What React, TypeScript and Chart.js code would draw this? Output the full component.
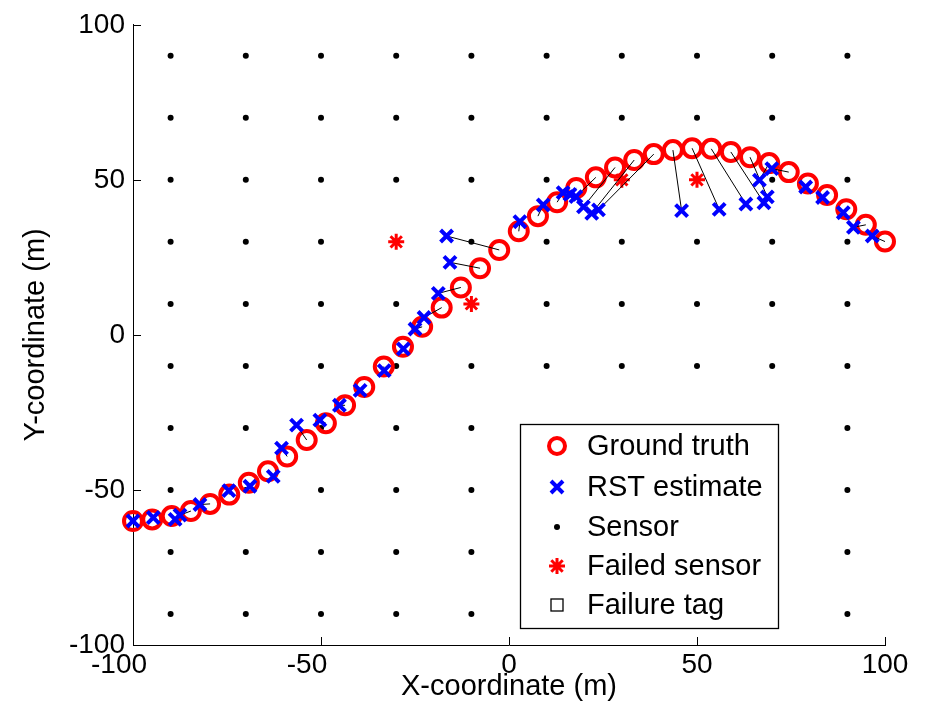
import React, { useEffect, useRef } from 'react';
import { Chart, registerables } from 'chart.js';

Chart.register(...registerables);

// Ground truth trajectory
const truthX = [-100, -94.9, -89.7, -84.6, -79.5, -74.4, -69.2, -64.1, -59.0, -53.8, -48.7, -43.6, -38.5, -33.3, -28.2, -23.1, -17.9, -12.8, -7.7, -2.6, 2.6, 7.7, 12.8, 17.9, 23.1, 28.2, 33.3, 38.5, 43.6, 48.7, 53.8, 59.0, 64.1, 69.2, 74.4, 79.5, 84.6, 89.7, 94.9, 100];
const truthY = [-60, -59.5, -58.4, -56.8, -54.5, -51.5, -47.7, -44, -39.2, -33.9, -28.5, -22.7, -16.8, -10.2, -3.8, 2.6, 8.8, 15.3, 21.5, 27.4, 33.4, 38.3, 42.8, 47.4, 50.8, 54.0, 56.4, 58.3, 59.6, 60.2, 60.0, 59.0, 57.3, 55.4, 52.5, 48.8, 45.1, 40.5, 35.5, 30.1];

// RST estimates
const estX = [-100, -94.6, -88.8, -87.5, -82.2, -74.5, -68.9, -62.7, -60.5, -56.5, -50.3, -45.1, -39.6, -33.2, -28.1, -25.0, -22.6, -18.8, -15.7, -16.6, 2.9, 9.1, 14.4, 16.2, 17.8, 19.8, 22.0, 23.8, 45.9, 55.9, 63.0, 67.8, 68.7, 66.6, 69.9, 78.9, 83.4, 88.9, 91.6, 96.6];
const estY = [-60, -58.9, -59.5, -58.1, -54.7, -50.2, -48.8, -45.6, -36.5, -29.1, -27.5, -22.7, -17.9, -11.5, -4.5, 1.9, 5.6, 13.4, 23.4, 31.9, 36.5, 41.9, 45.9, 45.3, 44.6, 41.3, 39.2, 40.3, 40.1, 40.5, 42.2, 42.6, 44.5, 49.9, 53.6, 47.7, 44.3, 39.4, 34.7, 31.9];

// Sensor grid
const sensorCols = [-90, -70, -50, -30, -10, 10, 30, 50, 70, 90];
const sensorRows = [90, 70, 50, 30, 10, -10, -30, -50, -70, -90];

// Failed sensors
const failedX = [-30, -10, 30, 50];
const failedY = [30, 10, 50, 50];

// Axis ticks
const tickValues = [-100, -50, 0, 50, 100];

const legendLabels = ['Ground truth', 'RST estimate', 'Sensor', 'Failed sensor', 'Failure tag'];

const FONT = '"Liberation Sans", Arial, Helvetica, sans-serif';

export default function App() {
  const ref = useRef<HTMLCanvasElement | null>(null);

  useEffect(() => {
    if (!ref.current) return;

    const truth = truthX.map((x, i) => ({ x, y: truthY[i] }));
    const est = estX.map((x, i) => ({ x, y: estY[i] }));
    const errLines: any[] = [];
    estX.forEach((x, i) => {
      errLines.push({ x, y: estY[i] });
      errLines.push({ x: truthX[i], y: truthY[i] });
      errLines.push({ x: null, y: null });
    });
    const failedSet = new Set(failedX.map((x, i) => `${x},${failedY[i]}`));
    const sensors: any[] = [];
    sensorRows.forEach((y) => sensorCols.forEach((x) => {
      if (!failedSet.has(`${x},${y}`)) sensors.push({ x, y });
    }));
    const failed = failedX.map((x, i) => ({ x, y: failedY[i] }));

    const axesPlugin = {
      id: 'matlabAxes',
      afterDraw(chart: any) {
        const { ctx, chartArea, scales } = chart;
        const xs = scales.x;
        const ys = scales.y;
        ctx.save();
        // inward ticks
        ctx.strokeStyle = '#000';
        ctx.lineWidth = 1;
        ctx.beginPath();
        tickValues.forEach((v) => {
          const px = Math.round(xs.getPixelForValue(v)) + 0.5;
          ctx.moveTo(px, chartArea.bottom);
          ctx.lineTo(px, chartArea.bottom - 8);
          const py = Math.round(ys.getPixelForValue(v)) + 0.5;
          ctx.moveTo(chartArea.left, py);
          ctx.lineTo(chartArea.left + 8, py);
        });
        ctx.stroke();
        // x tick labels
        ctx.fillStyle = '#000';
        ctx.font = `28px ${FONT}`;
        ctx.textAlign = 'center';
        ctx.textBaseline = 'top';
        tickValues.forEach((v) => {
          const px = xs.getPixelForValue(v) + (v < 0 ? -14 : 0);
          ctx.fillText(String(v), px, chartArea.bottom + 6);
        });

        // legend
        const bx = 520, by = 424, bw = 258, bh = 204;
        ctx.fillStyle = '#fff';
        ctx.fillRect(bx, by, bw, bh);
        ctx.strokeStyle = '#000';
        ctx.lineWidth = 1.3;
        ctx.strokeRect(bx + 0.5, by + 0.5, bw, bh);
        const rowsY = [446, 487, 527, 566, 605];
        const sx = 557;
        ctx.font = `29px ${FONT}`;
        ctx.textAlign = 'left';
        ctx.textBaseline = 'middle';
        legendLabels.forEach((label, i) => {
          const y = rowsY[i];
          ctx.save();
          if (i === 0) {
            ctx.strokeStyle = '#ff0000';
            ctx.lineWidth = 4;
            ctx.beginPath();
            ctx.arc(sx, y, 8, 0, Math.PI * 2);
            ctx.stroke();
          } else if (i === 1) {
            ctx.strokeStyle = '#0000ff';
            ctx.lineWidth = 4;
            ctx.beginPath();
            ctx.moveTo(sx - 6, y - 6); ctx.lineTo(sx + 6, y + 6);
            ctx.moveTo(sx + 6, y - 6); ctx.lineTo(sx - 6, y + 6);
            ctx.stroke();
          } else if (i === 2) {
            ctx.fillStyle = '#000';
            ctx.beginPath();
            ctx.arc(sx, y, 3, 0, Math.PI * 2);
            ctx.fill();
          } else if (i === 3) {
            ctx.strokeStyle = '#ff0000';
            ctx.lineWidth = 3;
            ctx.beginPath();
            ctx.moveTo(sx, y - 8); ctx.lineTo(sx, y + 8);
            ctx.moveTo(sx - 8, y); ctx.lineTo(sx + 8, y);
            ctx.moveTo(sx - 5.7, y - 5.7); ctx.lineTo(sx + 5.7, y + 5.7);
            ctx.moveTo(sx + 5.7, y - 5.7); ctx.lineTo(sx - 5.7, y + 5.7);
            ctx.stroke();
          } else {
            ctx.strokeStyle = '#000';
            ctx.lineWidth = 1.3;
            ctx.strokeRect(sx - 6, y - 6, 12, 12);
          }
          ctx.restore();
          ctx.fillStyle = '#000';
          ctx.fillText(label, 587, y + 1);
        });
        ctx.restore();
      },
    };

    const chart = new Chart(ref.current, {
      type: 'scatter',
      data: {
        datasets: [
          {
            label: 'RST estimate',
            data: est,
            pointStyle: 'crossRot',
            pointRadius: 8.5,
            pointHoverRadius: 8.5,
            borderColor: '#0000ff',
            backgroundColor: '#0000ff',
            borderWidth: 4,
            clip: false,
            order: 1,
          },
          {
            label: 'error',
            data: errLines,
            showLine: true,
            spanGaps: false,
            pointRadius: 0,
            borderColor: '#000',
            borderWidth: 1,
            clip: false,
            order: 2,
          },
          {
            label: 'Ground truth',
            data: truth,
            pointStyle: 'circle',
            pointRadius: 9,
            pointHoverRadius: 9,
            borderColor: '#ff0000',
            backgroundColor: 'rgba(0,0,0,0)',
            borderWidth: 4,
            clip: false,
            order: 3,
          },
          {
            label: 'Failed sensor',
            data: failed,
            pointStyle: 'star',
            pointRadius: 8,
            borderColor: '#ff0000',
            backgroundColor: '#ff0000',
            borderWidth: 3,
            clip: false,
            order: 4,
          },
          {
            label: 'Sensor',
            data: sensors,
            pointStyle: 'circle',
            pointRadius: 3,
            borderWidth: 0,
            backgroundColor: '#000',
            borderColor: '#000',
            clip: false,
            order: 5,
          },
          {
            label: 'Failure tag',
            data: [],
            pointStyle: 'rect',
            borderColor: '#000',
            backgroundColor: 'rgba(0,0,0,0)',
            order: 6,
          },
        ],
      },
      options: {
        animation: false,
        responsive: false,
        events: [],
        layout: { padding: { top: 20, right: 41, left: 0, bottom: 0 } },
        plugins: {
          legend: { display: false },
          tooltip: { enabled: false },
        },
        scales: {
          x: {
            type: 'linear',
            min: -100,
            max: 100,
            grid: { display: false, drawTicks: false },
            border: { display: true, color: '#000', width: 1 },
            ticks: { display: false, stepSize: 50 },
            title: {
              display: true,
              text: 'X-coordinate (m)',
              color: '#000',
              font: { family: FONT, size: 29 },
              padding: { top: 0, bottom: 14 },
            },
            afterFit: (s: any) => { s.height = 73; },
          },
          y: {
            type: 'linear',
            min: -100,
            max: 100,
            grid: { display: false, drawTicks: false },
            border: { display: true, color: '#000', width: 1 },
            ticks: {
              stepSize: 50,
              color: '#000',
              padding: 8,
              font: { family: FONT, size: 28 },
            },
            title: {
              display: true,
              text: 'Y-coordinate (m)',
              color: '#000',
              font: { family: FONT, size: 29 },
              padding: { top: 19, bottom: 0 },
            },
            afterFit: (s: any) => { s.width = 133; },
          },
        },
      },
      plugins: [axesPlugin],
    });

    return () => chart.destroy();
  }, []);

  return (
    <div style={{ position: 'absolute', left: 0, top: 0, width: 926, height: 718, background: '#fff' }}>
      <canvas ref={ref} width={926} height={718} style={{ display: 'block' }} />
    </div>
  );
}
